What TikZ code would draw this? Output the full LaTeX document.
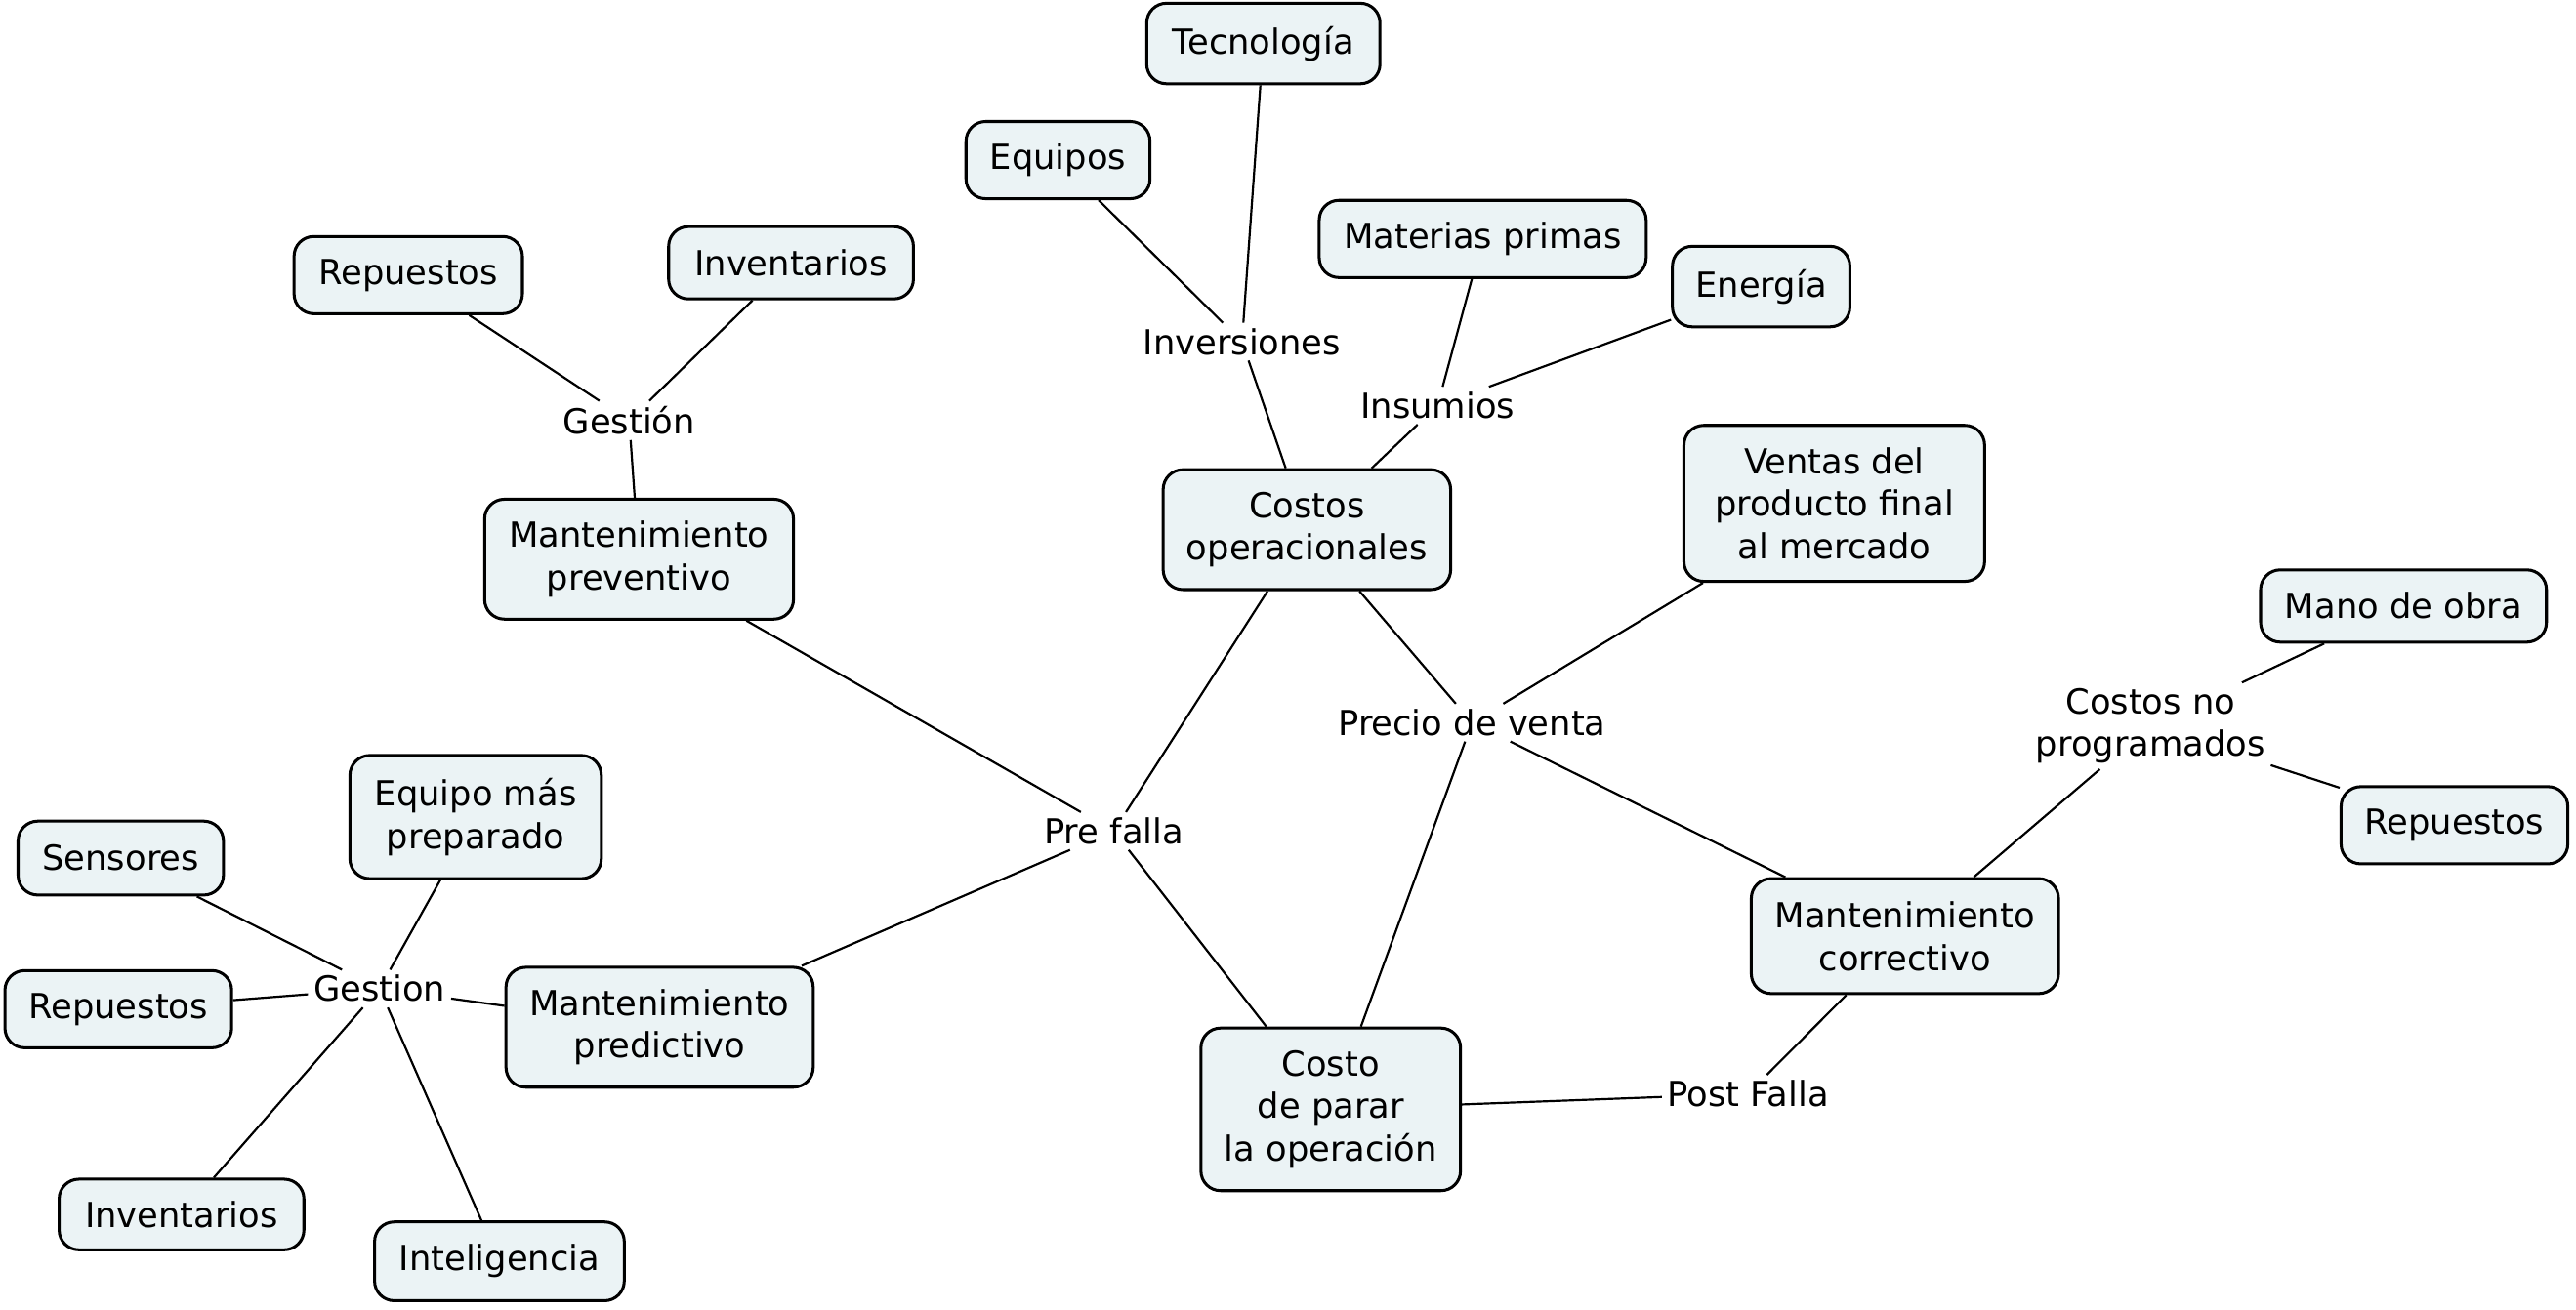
\documentclass[tikz,border=0pt]{standalone}
\usepackage{fontspec}
\setmainfont{DejaVu Sans}
\definecolor{boxfill}{HTML}{EBF3F5}
\tikzset{
  box/.style={draw=black, line width=0.9pt, rounded corners=6pt, fill=boxfill,
    align=center, inner sep=0pt, font=\fontsize{10.5}{13}\selectfont},
  lbl/.style={align=center, inner sep=1.5pt, font=\fontsize{10.5}{13}\selectfont},
  link/.style={line width=0.65pt, black}
}
\begin{document}
\begin{tikzpicture}[x=0.5pt, y=-0.5pt]
\useasboundingbox (0,0) rectangle (1568,797.1);
% boxes
\node[box, minimum width=71pt, minimum height=24.5pt] (tec) at (769,26.5) {Tecnología};
\node[box, minimum width=56pt, minimum height=23.5pt] (equ) at (644,97.5) {Equipos};
\node[box, minimum width=99.5pt, minimum height=23.5pt] (mat) at (902.5,145.5) {Materias primas};
\node[box, minimum width=54pt, minimum height=24.5pt] (ene) at (1072,174.5) {Energía};
\node[box, minimum width=69.5pt, minimum height=23.5pt] (rep1) at (248.5,167.5) {Repuestos};
\node[box, minimum width=74.5pt, minimum height=22pt] (inv1) at (481.5,160) {Inventarios};
\node[box, minimum width=94pt, minimum height=36.5pt] (mprev) at (389,340.5) {Mantenimiento\\preventivo};
\node[box, minimum width=87.5pt, minimum height=36.5pt] (cop) at (795.5,322.5) {Costos\\operacionales};
\node[box, minimum width=91.5pt, minimum height=47.5pt] (ven) at (1116.5,306.5) {Ventas del\\producto final\\al mercado};
\node[box, minimum width=87pt, minimum height=22pt] (mano) at (1463,369) {Mano de obra};
\node[box, minimum width=69pt, minimum height=23.5pt] (rep2) at (1494,502.5) {Repuestos};
\node[box, minimum width=93.5pt, minimum height=35pt] (mcor) at (1159.5,570) {Mantenimiento\\correctivo};
\node[box, minimum width=76.5pt, minimum height=37.5pt] (eqm) at (289.5,497.5) {Equipo más\\preparado};
\node[box, minimum width=62.5pt, minimum height=22.5pt] (sen) at (73.5,522.5) {Sensores};
\node[box, minimum width=69pt, minimum height=23.5pt] (rep3) at (72,614.5) {Repuestos};
\node[box, minimum width=93.5pt, minimum height=36.5pt] (mpred) at (401.5,625.5) {Mantenimiento\\predictivo};
\node[box, minimum width=74.5pt, minimum height=21.5pt] (inv2) at (110.5,739.5) {Inventarios};
\node[box, minimum width=76pt, minimum height=24pt] (int) at (304,768) {Inteligencia};
\node[box, minimum width=79pt, minimum height=49.5pt] (cpar) at (810,675.5) {Costo\\de parar\\la operación};
% linking phrases
\node[lbl] (inver) at (756,208) {Inversiones};
\node[lbl] (insu) at (875,247) {Insumios};
\node[lbl] (gest1) at (383,256) {Gestión};
\node[lbl] (pven) at (896,440) {Precio de venta};
\node[lbl] (cnp) at (1309,442) {Costos no\\programados};
\node[lbl] (pre) at (678,506) {Pre falla};
\node[lbl] (gest2) at (231,602) {Gestion};
\node[lbl] (post) at (1064,666) {Post Falla};
% connectors
\draw[link] (equ) -- (inver);
\draw[link] (tec) -- (inver);
\draw[link] (inver) -- (cop);
\draw[link] (mat) -- (insu);
\draw[link] (ene) -- (insu);
\draw[link] (insu) -- (cop);
\draw[link] (rep1) -- (gest1);
\draw[link] (inv1) -- (gest1);
\draw[link] (gest1) -- (mprev);
\draw[link] (mprev) -- (pre);
\draw[link] (cop) -- (pre);
\draw[link] (pre) -- (cpar);
\draw[link] (pre) -- (mpred);
\draw[link] (cop) -- (pven);
\draw[link] (ven) -- (pven);
\draw[link] (pven) -- (cpar);
\draw[link] (pven) -- (mcor);
\draw[link] (mcor) -- (cnp);
\draw[link] (cnp) -- (mano);
\draw[link] (cnp) -- (rep2);
\draw[link] (mcor) -- (post);
\draw[link] (post) -- (cpar);
\draw[link] (gest2) -- (sen);
\draw[link] (gest2) -- (eqm);
\draw[link] (gest2) -- (rep3);
\draw[link] (gest2) -- (mpred);
\draw[link] (gest2) -- (inv2);
\draw[link] (gest2) -- (int);
\end{tikzpicture}
\end{document}
